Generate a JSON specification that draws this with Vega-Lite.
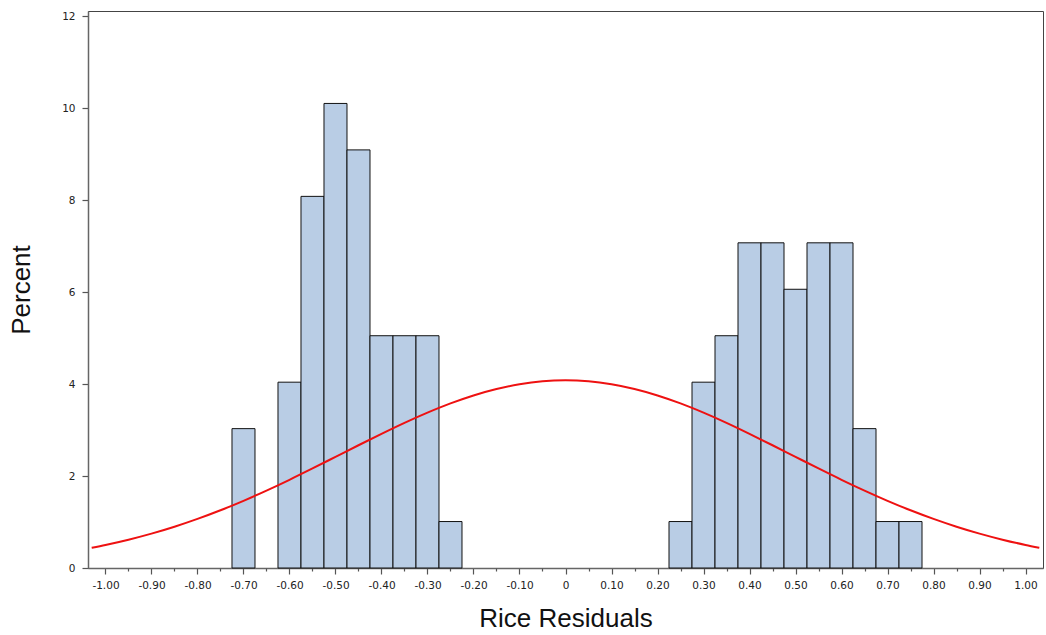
{
  "$schema": "https://vega.github.io/schema/vega-lite/v6.json",
  "width": 955,
  "height": 557,
  "autosize": "none",
  "padding": {"left": 88, "top": 11, "right": 3, "bottom": 67},
  "background": "white",
  "config": {
    "font": "Liberation Sans",
    "view": {"stroke": "#444", "strokeWidth": 1},
    "axis": {"grid": false, "labelFont": "DejaVu Sans", "titleFont": "Liberation Sans", "labelColor": "#222", "titleColor": "#111", "domainColor": "#666", "domainWidth": 1.5, "tickColor": "#555", "tickWidth": 1.2, "titleFontWeight": "normal"}
  },
  "datasets": {
    "bars": [
      {"lo": -0.725, "hi": -0.675, "pct": 3.03},
      {"lo": -0.625, "hi": -0.575, "pct": 4.04},
      {"lo": -0.575, "hi": -0.525, "pct": 8.08},
      {"lo": -0.525, "hi": -0.475, "pct": 10.10},
      {"lo": -0.475, "hi": -0.425, "pct": 9.09},
      {"lo": -0.425, "hi": -0.375, "pct": 5.05},
      {"lo": -0.375, "hi": -0.325, "pct": 5.05},
      {"lo": -0.325, "hi": -0.275, "pct": 5.05},
      {"lo": -0.275, "hi": -0.225, "pct": 1.01},
      {"lo": 0.225, "hi": 0.275, "pct": 1.01},
      {"lo": 0.275, "hi": 0.325, "pct": 4.04},
      {"lo": 0.325, "hi": 0.375, "pct": 5.05},
      {"lo": 0.375, "hi": 0.425, "pct": 7.07},
      {"lo": 0.425, "hi": 0.475, "pct": 7.07},
      {"lo": 0.475, "hi": 0.525, "pct": 6.06},
      {"lo": 0.525, "hi": 0.575, "pct": 7.07},
      {"lo": 0.575, "hi": 0.625, "pct": 7.07},
      {"lo": 0.625, "hi": 0.675, "pct": 3.03},
      {"lo": 0.675, "hi": 0.725, "pct": 1.01},
      {"lo": 0.725, "hi": 0.775, "pct": 1.01}
    ],
    "curve": [
      {"x": -1.03, "y": 0.441}, {"x": -1.0, "y": 0.501}, {"x": -0.95, "y": 0.615}, {"x": -0.9, "y": 0.747},
      {"x": -0.85, "y": 0.897}, {"x": -0.8, "y": 1.067}, {"x": -0.75, "y": 1.255}, {"x": -0.7, "y": 1.461},
      {"x": -0.65, "y": 1.683}, {"x": -0.6, "y": 1.918}, {"x": -0.55, "y": 2.164}, {"x": -0.5, "y": 2.416},
      {"x": -0.45, "y": 2.669}, {"x": -0.4, "y": 2.917}, {"x": -0.35, "y": 3.156}, {"x": -0.3, "y": 3.378},
      {"x": -0.25, "y": 3.579}, {"x": -0.2, "y": 3.752}, {"x": -0.15, "y": 3.892}, {"x": -0.1, "y": 3.995},
      {"x": -0.05, "y": 4.059}, {"x": 0.0, "y": 4.08}, {"x": 0.05, "y": 4.059}, {"x": 0.1, "y": 3.995},
      {"x": 0.15, "y": 3.892}, {"x": 0.2, "y": 3.752}, {"x": 0.25, "y": 3.579}, {"x": 0.3, "y": 3.378},
      {"x": 0.35, "y": 3.156}, {"x": 0.4, "y": 2.917}, {"x": 0.45, "y": 2.669}, {"x": 0.5, "y": 2.416},
      {"x": 0.55, "y": 2.164}, {"x": 0.6, "y": 1.918}, {"x": 0.65, "y": 1.683}, {"x": 0.7, "y": 1.461},
      {"x": 0.75, "y": 1.255}, {"x": 0.8, "y": 1.067}, {"x": 0.85, "y": 0.897}, {"x": 0.9, "y": 0.747},
      {"x": 0.95, "y": 0.615}, {"x": 1.0, "y": 0.501}, {"x": 1.03, "y": 0.441}
    ]
  },
  "resolve": {"axis": {"x": "independent"}},
  "layer": [
    {
      "data": {"name": "bars"},
      "mark": {"type": "rect", "fill": "#b9cde5", "stroke": "#111", "strokeWidth": 1},
      "encoding": {
        "x": {"field": "lo", "type": "quantitative", "scale": {"domain": [-1.038, 1.038], "nice": false, "zero": false},
          "axis": {"orient": "bottom", "values": [-1.0, -0.9, -0.8, -0.7, -0.6, -0.5, -0.4, -0.3, -0.2, -0.1, 0, 0.1, 0.2, 0.3, 0.4, 0.5, 0.6, 0.7, 0.8, 0.9, 1.0],
            "labelExpr": "datum.value == 0 ? '0' : (datum.value < 0 ? '-' : '') + format(abs(datum.value), '.2f')",
            "tickSize": 6, "labelFontSize": 10.5, "labelPadding": 6, "title": "Rice Residuals", "titleFontSize": 26, "titlePadding": 15}},
        "x2": {"field": "hi"},
        "y": {"field": "pct", "type": "quantitative", "scale": {"domain": [0, 12.11], "nice": false},
          "axis": {"values": [0, 2, 4, 6, 8, 10, 12], "format": "d", "tickSize": 6, "labelFontSize": 10.5, "labelPadding": 7, "title": "Percent", "titleFontSize": 26, "titlePadding": 27}},
        "y2": {"datum": 0}
      }
    },
    {
      "data": {"name": "curve"},
      "mark": {"type": "line", "color": "#ee1111", "strokeWidth": 2, "interpolate": "monotone"},
      "encoding": {
        "x": {"field": "x", "type": "quantitative",
          "axis": {"orient": "bottom", "values": [-0.95, -0.85, -0.75, -0.65, -0.55, -0.45, -0.35, -0.25, -0.15, -0.05, 0.05, 0.15, 0.25, 0.35, 0.45, 0.55, 0.65, 0.75, 0.85, 0.95],
            "labels": false, "tickSize": 3, "title": null, "domain": false}},
        "y": {"field": "y", "type": "quantitative"}
      }
    }
  ]
}
